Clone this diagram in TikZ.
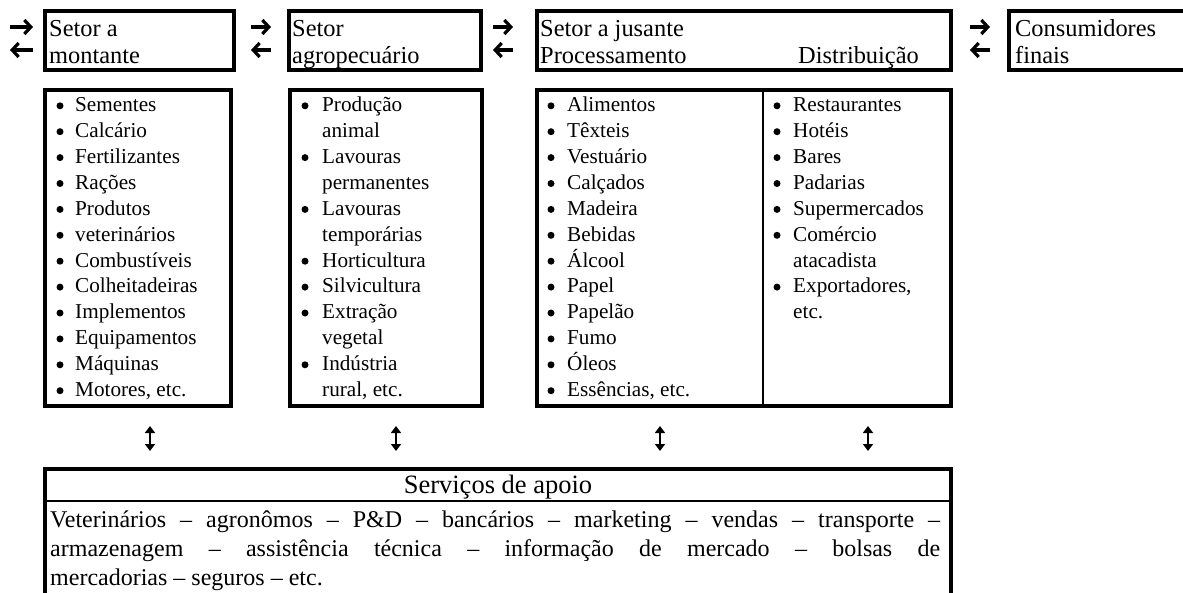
\documentclass[tikz,border=0pt]{standalone}
\usepackage{fontspec}
\setmainfont{Liberation Serif}
\usetikzlibrary{arrows.meta}
\begin{document}
\begin{tikzpicture}[x=1pt,y=-1pt,
  frame/.style={draw, line width=4pt, inner sep=0pt, outer sep=0pt, anchor=north west},
  thinline/.style={line width=1.5pt},
  hd/.style={font=\fontsize{24.4}{27}\selectfont, inner sep=0pt, anchor=base west},
  itm/.style={font=\fontsize{21.2}{26}\selectfont, inner sep=0pt, anchor=base west},
  bul/.style={circle, fill, inner sep=0pt, minimum size=7pt},
  svtxt/.style={font=\fontsize{24}{29}\selectfont, inner sep=0pt, anchor=base west},
  svtitle/.style={font=\fontsize{26.5}{29}\selectfont, inner sep=0pt, anchor=base},
  flow/.style={line width=3.2pt, -{Straight Barb[length=6.5pt,width=14pt,line width=3.2pt]}},
  vflow/.style={line width=2.2pt, {Triangle[length=7pt,width=10pt]}-{Triangle[length=7pt,width=10pt]}},
]
\useasboundingbox (0,0) rectangle (1183,592);

% top boxes
\node[frame, minimum width=189pt, minimum height=59pt] (b1) at (45,11) {};
\node[frame, minimum width=192pt, minimum height=59pt] (b2) at (289,11) {};
\node[frame, minimum width=414pt, minimum height=59pt] (b3) at (537,11) {};
\node[frame, minimum width=200pt, minimum height=59pt] (b4) at (1009,11) {};

\node[hd] (t1a) at (49,36) {Setor a};
\node[hd] (t1b) at (49,63) {montante};
\node[hd] (t2a) at (292,36) {Setor};
\node[hd] (t2b) at (292,63) {agropecuário};
\node[hd] (t3a) at (540,36) {Setor a jusante};
\node[hd] (t3b) at (540,63) {Processamento};
\node[hd] (t3c) at (798,63) {Distribuição};
\node[hd] (t4a) at (1015,36) {Consumidores};
\node[hd] (t4b) at (1015,63) {finais};

% flow arrows
\foreach \n/\xa/\xb in {0/10/33, 1/251/271, 2/493/513, 3/970/990} {
  \coordinate (rs\n) at (\xa,27);
  \coordinate (re\n) at (\xb,27);
  \coordinate (ls\n) at (\xb,50);
  \coordinate (le\n) at (\xa,50);
  \draw[flow] (rs\n) -- (re\n);
  \draw[flow] (ls\n) -- (le\n);
}

% list boxes
\node[frame, minimum width=186pt, minimum height=316pt] (l1) at (45,90) {};
\node[frame, minimum width=192pt, minimum height=316pt] (l2) at (290,90) {};
\node[frame, minimum width=414pt, minimum height=316pt] (l3) at (537,90) {};
\coordinate (dvt) at (763,90);
\coordinate (dvb) at (763,406);
\draw[thinline] (dvt) -- (dvb);

\foreach \hasb/\txt [count=\i from 0] in {1/Sementes, 1/Calcário, 1/Fertilizantes, 1/Rações, 1/Produtos, 1/veterinários, 1/Combustíveis, 1/Colheitadeiras, 1/Implementos, 1/Equipamentos, 1/Máquinas, 1/{Motores, etc.}} {
  \pgfmathsetmacro\yy{111.6+25.9*\i}
  \node[itm] (la\i) at (75,\yy) {\txt};
  \ifnum\hasb=1 \node[bul] (lab\i) at (60,\yy-5.8) {};\fi
}
\foreach \hasb/\txt [count=\i from 0] in {1/Produção, 0/animal, 1/Lavouras, 0/permanentes, 1/Lavouras, 0/temporárias, 1/Horticultura, 1/Silvicultura, 1/Extração, 0/vegetal, 1/Indústria, 0/{rural, etc.}} {
  \pgfmathsetmacro\yy{111.6+25.9*\i}
  \node[itm] (lb\i) at (322,\yy) {\txt};
  \ifnum\hasb=1 \node[bul] (lbb\i) at (305,\yy-5.8) {};\fi
}
\foreach \hasb/\txt [count=\i from 0] in {1/Alimentos, 1/Têxteis, 1/Vestuário, 1/Calçados, 1/Madeira, 1/Bebidas, 1/Álcool, 1/Papel, 1/Papelão, 1/Fumo, 1/Óleos, 1/{Essências, etc.}} {
  \pgfmathsetmacro\yy{111.6+25.9*\i}
  \node[itm] (lc\i) at (567,\yy) {\txt};
  \ifnum\hasb=1 \node[bul] (lcb\i) at (551,\yy-5.8) {};\fi
}
\foreach \hasb/\txt [count=\i from 0] in {1/Restaurantes, 1/Hotéis, 1/Bares, 1/Padarias, 1/Supermercados, 1/Comércio, 0/atacadista, 1/{Exportadores,}, 0/etc.} {
  \pgfmathsetmacro\yy{111.6+25.9*\i}
  \node[itm] (ld\i) at (793,\yy) {\txt};
  \ifnum\hasb=1 \node[bul] (ldb\i) at (777,\yy-5.8) {};\fi
}

% double arrows
\foreach \n/\x in {1/150, 2/396, 3/660, 4/868} {
  \coordinate (ua\n) at (\x,426);
  \coordinate (ub\n) at (\x,451);
  \draw[vflow] (ua\n) -- (ub\n);
}

% services box
\node[frame, minimum width=906pt, minimum height=160pt] (sv) at (45,469) {};
\coordinate (sdl) at (45,501);
\coordinate (sdr) at (951,501);
\draw[thinline] (sdl) -- (sdr);
\node[svtitle] (st) at (498,493) {Serviços de apoio};
\node[svtxt] (s1) at (50,527) {\makebox[890pt][s]{Veterinários – agronômos – P\&D – bancários – marketing – vendas – transporte –}};
\node[svtxt] (s2) at (50,556) {\makebox[890pt][s]{armazenagem – assistência técnica – informação de mercado – bolsas de}};
\node[svtxt] (s3) at (50,585) {mercadorias – seguros – etc.};
\end{tikzpicture}
\end{document}
